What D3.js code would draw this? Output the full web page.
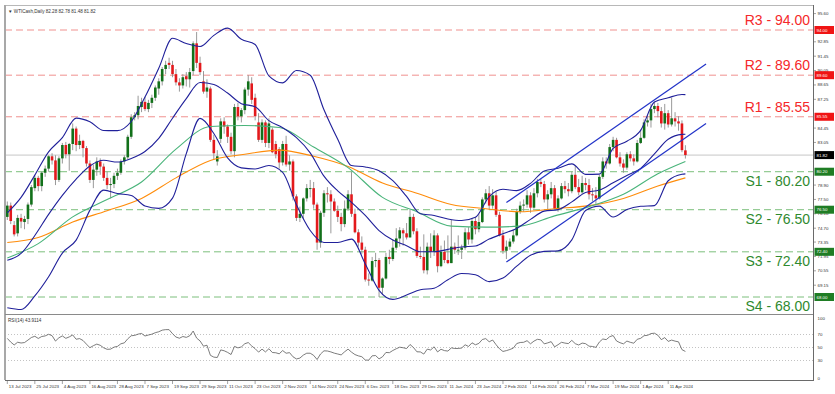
<!DOCTYPE html>
<html>
<head>
<meta charset="utf-8">
<script src="https://cdn.jsdelivr.net/npm/d3@7/dist/d3.min.js"></script>
<style>
  html, body { margin: 0; padding: 0; background: #fff; }
  svg { display: block; font-family: "Liberation Sans", Arial, sans-serif; }
</style>
</head>
<body>
<svg id="chart" width="835" height="394"></svg>
<script>
// daily bars, 13 Jul 2023 .. 18 Apr 2024
const opens = [
  75.8,76.9,75.0,74.2,75.7,75.3,75.6,77.0,78.6,79.6, 78.8,80.1,80.5,81.7,81.3,79.4,81.5,82.8,81.9,82.9,
  84.4,82.8,83.2,82.5,81.0,79.4,80.4,81.2,80.7,79.6, 78.9,79.0,79.8,80.1,81.2,81.6,83.6,85.5,85.7,86.5,
  87.0,86.3,86.9,87.4,88.3,89.0,90.2,90.8,90.6,89.7, 88.9,88.6,89.5,89.2,90.0,92.7,90.8,89.0,88.0,88.3,
  83.3,81.2,83.4,85.1,84.6,83.6,82.2,86.5,85.6,86.2, 88.2,88.8,87.4,85.0,83.3,85.0,83.0,84.3,82.9,82.4,
  81.1,82.9,80.9,81.2,77.8,75.7,76.1,77.6,78.6,78.6, 77.0,73.3,76.2,78.1,78.0,77.3,76.4,75.8,75.1,76.6,
  78.0,76.1,74.3,73.3,72.6,69.7,69.6,71.5,71.6,68.9, 69.8,71.9,71.7,72.8,73.7,74.5,74.2,73.8,75.8,74.4,
  72.0,71.9,70.6,72.9,72.4,74.0,71.0,72.4,71.6,71.3, 72.9,72.6,72.6,72.8,74.3,73.6,75.4,74.6,75.3,77.5,
  78.1,76.9,77.9,76.0,74.0,72.5,72.9,73.4,74.0,76.3, 76.9,77.0,77.9,76.7,78.1,79.2,79.0,77.5,78.0,78.6,
  76.6,77.6,78.8,78.5,78.3,79.9,78.7,78.2,79.1,78.9, 78.0,77.9,77.6,79.7,81.2,81.0,82.6,83.3,81.6,81.0,
  80.6,81.9,81.5,81.2,83.0,83.5,85.0,85.2,86.3,86.6, 86.1,84.9,85.9,84.8,85.4,85.1,84.9,82.28
];
const highs = [
  77.3,77.2,75.4,76.0,76.1,75.9,77.2,78.9,79.8,79.8, 80.2,80.8,81.8,82.0,81.8,81.7,83.0,83.1,83.0,84.9,
  84.6,83.8,83.3,82.7,81.3,80.9,81.6,81.5,81.0,80.2, 79.6,80.1,80.5,81.4,81.8,83.8,85.8,86.0,87.6,87.4,
  87.5,87.2,87.7,88.6,89.3,90.4,91.0,91.3,91.0,90.2, 89.3,89.7,89.9,90.3,92.9,93.8,91.4,90.0,89.2,88.5,
  83.8,82.3,85.4,85.5,84.8,84.0,86.8,86.9,86.4,88.4, 89.6,89.4,87.8,85.9,85.3,85.2,85.4,84.5,83.2,82.6,
  83.2,83.7,81.8,81.4,78.0,76.8,77.7,79.0,79.4,79.2, 77.2,76.4,78.4,78.7,78.4,77.6,76.9,76.2,77.4,78.4,
  80.2,76.6,74.6,73.9,72.9,70.3,71.9,72.3,71.8,69.9, 72.3,72.6,73.6,74.7,74.8,74.7,75.2,76.5,76.1,74.7,
  72.9,74.1,73.3,74.2,74.5,74.2,73.0,73.5,74.0,75.5, 73.3,74.0,73.1,74.7,74.8,75.7,75.8,76.1,77.7,78.5,
  78.8,78.5,78.3,76.3,74.5,73.5,73.7,74.5,76.6,77.3, 77.5,78.4,78.2,78.6,79.5,79.5,79.3,78.4,79.2,78.9,
  77.9,79.1,79.3,79.1,80.2,80.8,79.5,79.8,79.6,79.5, 78.6,78.7,79.9,81.6,81.6,82.9,83.6,83.5,82.1,81.4,
  82.1,82.2,81.9,83.3,84.3,85.3,85.7,86.8,87.0,86.9, 86.5,86.8,86.2,87.4,86.0,85.6,85.2,82.78
];
const lows = [
  75.5,75.1,73.9,73.9,74.7,74.6,75.1,76.8,78.3,78.3, 78.3,79.7,80.2,80.9,78.9,79.2,81.0,81.5,80.3,82.3,
  82.2,82.4,81.6,80.7,79.1,78.6,79.8,79.9,79.3,78.5, 77.6,78.6,79.4,79.9,80.9,81.4,83.4,85.2,85.3,86.0,
  86.1,86.0,86.4,87.1,87.7,88.6,89.7,90.2,89.4,88.6, 88.0,88.3,88.5,88.4,89.6,90.3,89.6,87.8,87.4,83.1,
  81.4,80.8,83.0,83.9,83.0,81.9,81.6,85.2,85.0,85.8, 87.6,86.8,85.2,83.1,83.0,82.6,82.5,82.0,81.5,80.5,
  80.8,80.7,80.3,77.4,75.4,75.3,75.6,77.3,77.7,76.6, 72.6,72.8,75.8,77.2,74.2,76.3,75.3,74.4,74.8,76.4,
  75.8,74.2,72.9,72.2,69.5,69.1,69.5,70.9,68.0,68.3, 69.7,71.2,71.5,72.6,72.9,73.0,73.6,73.8,74.1,71.8,
  71.7,70.3,70.2,71.8,72.0,70.4,70.9,71.3,71.2,71.3, 72.2,72.1,71.7,72.6,73.1,73.2,74.1,74.3,75.2,77.1,
  76.5,76.6,75.8,73.9,72.2,71.7,72.6,73.2,73.9,76.1, 76.3,76.7,76.2,76.6,77.7,78.7,77.2,76.5,77.6,76.5,
  76.3,77.5,78.1,77.8,78.1,78.5,77.9,78.0,78.4,77.5, 77.3,77.0,77.5,79.5,80.5,80.9,82.2,81.5,80.7,80.1,
  80.4,81.2,80.8,81.1,82.9,83.4,84.6,84.5,85.9,85.5, 84.5,84.3,84.5,84.6,84.6,84.2,82.1,81.48
];
const closes = [
  76.9,75.4,74.1,75.7,75.35,75.6,77.0,78.7,79.6,78.8, 80.1,80.5,81.7,81.3,79.4,81.5,82.8,81.9,82.9,84.4,
  82.8,83.2,82.5,81.0,79.4,80.4,81.2,80.7,79.6,78.9, 79.0,79.8,80.1,81.2,81.6,83.6,85.5,85.7,86.6,87.0,
  86.3,86.9,87.4,88.4,89.0,90.2,90.6,90.6,89.7,88.9, 88.6,89.4,89.2,89.9,92.7,90.8,89.9,88.0,88.4,83.3,
  82.0,81.7,85.1,84.6,83.6,82.2,86.5,85.6,86.2,88.2, 89.0,87.2,85.6,83.3,85.0,83.0,84.9,82.1,81.9,81.1,
  82.9,80.9,81.2,77.8,75.7,76.1,77.6,78.6,78.6,77.0, 73.3,76.2,78.1,78.0,77.3,76.4,75.8,75.1,76.6,78.0,
  76.1,74.3,73.3,72.6,69.7,69.6,71.5,71.6,68.9,69.8, 71.9,71.7,72.8,73.7,74.5,74.2,73.8,75.8,74.4,72.0,
  71.9,70.6,72.9,72.4,74.0,71.0,72.4,71.6,71.3,72.9, 72.6,72.6,72.8,74.3,73.6,75.4,74.6,75.3,77.5,78.1,
  76.9,77.9,76.0,74.0,72.5,72.9,73.4,74.0,76.3,76.9, 77.0,77.9,76.7,78.1,79.2,79.0,77.5,78.0,78.6,76.6,
  77.6,78.8,78.5,78.3,79.9,78.7,78.2,79.1,78.9,78.0, 77.9,77.6,79.7,81.2,81.0,82.6,83.3,81.6,81.0,80.6,
  81.9,81.5,81.2,83.0,83.5,85.0,85.2,86.3,86.6,86.1, 84.9,85.9,84.8,85.4,85.1,84.9,82.3,81.82
];

// bollinger (20) read every 4 bars
const bbIndex = [0,4,8,12,16,20,24,28,32,36,40,44,48,52,56,60,64,68,72,76,80,84,88,92,96,100,
  104,108,112,116,120,124,128,132,136,140,144,148,152,156,160,164,168,172,176,180,184,188,192,196,197];
const bbMid = [71.57,72.24,73.99,76.05,77.90,79.48,80.76,81.31,81.14,81.49,82.17,83.45,85.41,87.32,88.89,88.70,
  87.86,86.83,86.53,85.17,84.49,83.52,82.04,79.77,78.33,77.22,75.94,74.47,73.55,72.99,72.40,72.40,72.64,72.87,
  72.96,73.64,74.17,74.68,75.56,76.36,76.51,77.26,78.18,78.41,79.13,79.84,80.53,81.94,83.36,83.84,83.85];
const bbUpper = [76.19,77.70,79.87,82.13,83.52,85.42,85.06,84.21,84.20,85.09,87.47,90.27,93.19,92.68,92.39,93.48,
  94.18,93.09,92.59,89.53,88.85,90.06,89.60,86.23,83.35,80.80,80.66,80.29,79.33,77.79,76.10,75.94,75.60,75.45,
  75.76,77.78,78.49,78.36,79.06,80.28,80.53,80.96,79.94,79.97,82.47,83.16,84.23,86.98,87.40,87.72,87.71];
const bbLower = [66.95,66.78,68.11,69.97,72.28,73.54,76.46,78.41,78.08,77.89,76.87,76.63,77.63,81.96,85.39,83.92,
  81.54,80.57,80.47,80.81,80.13,76.98,74.48,73.31,73.31,73.64,71.22,68.65,67.77,68.19,68.70,68.86,69.68,70.29,
  70.16,69.50,69.85,71.00,72.06,72.44,72.49,73.56,76.42,76.85,75.79,76.52,76.83,76.90,79.32,79.96,79.99];

// moving averages read every 10 bars
const maIndex = [0,9,19,29,39,49,59,69,79,89,99,109,119,129,139,149,159,169,179,189,197];
const ma50 = [71.8,73.2,75.8,77.5,79.2,82.4,84.6,84.7,84.5,82.6,80.6,77.7,76.3,74.9,74.8,74.9,75.9,76.8,78.0,80.0,81.2];
const ma100 = [73.3,73.8,75.3,76.4,77.6,79.6,81.3,81.9,82.3,81.7,80.7,79.1,78.1,77.0,76.6,76.3,76.6,76.9,77.6,78.8,79.6];

// trend channel end points
const channelIndex = [145, 203];
const channelTop = [77.2, 90.7];
const channelBottom = [71.4, 84.9];

const rsi = [
  64.0,58.3,53.9,58.1,56.9,57.6,61.4,65.4,67.3,63.9, 66.9,67.8,70.3,68.3,59.9,65.0,67.8,64.1,66.3,69.3,
  62.7,63.7,60.8,55.1,49.7,52.8,55.2,53.4,49.5,47.2, 47.5,50.6,51.7,55.7,57.1,63.4,68.1,68.6,70.6,71.6,
  67.7,69.2,70.5,72.8,74.2,76.7,77.5,77.5,71.2,66.1, 64.3,66.9,65.6,68.0,75.3,64.5,60.1,52.0,53.5,38.0,
  35.2,34.6,46.3,45.0,42.5,39.2,51.7,49.4,50.9,55.8, 57.6,52.4,48.2,42.9,47.5,43.2,48.1,42.3,41.9,40.3,
  45.3,41.2,42.1,35.7,32.4,33.7,38.3,41.2,41.2,37.9, 31.5,40.0,44.9,44.6,43.2,41.3,40.0,38.6,43.4,47.5,
  42.9,39.1,37.1,35.8,30.7,30.5,37.2,37.6,32.5,35.7, 42.4,42.0,45.4,48.1,50.5,49.6,48.4,54.6,50.0,43.4,
  43.2,39.9,47.5,46.2,51.1,43.2,47.3,45.2,44.5,49.4, 48.5,48.5,49.2,54.2,51.6,57.2,54.2,56.3,62.3,63.7,
  58.8,61.5,54.3,48.0,43.9,45.2,46.9,49.0,56.1,57.7, 58.0,60.5,55.7,59.8,62.6,61.8,55.6,57.1,59.0,51.0,
  54.3,58.0,56.8,56.0,61.0,55.9,53.8,56.8,55.9,52.0, 51.6,50.2,58.4,63.1,62.1,66.6,68.4,60.0,57.4,55.6,
  59.9,58.0,56.6,62.6,64.1,68.2,68.7,71.4,72.0,68.9, 62.1,65.2,59.4,61.4,59.8,58.7,46.7,43.9114
];

const levelNames = ['R3', 'R2', 'R1', 'S1', 'S2', 'S3', 'S4'];
const levelValues = [94.00, 89.60, 85.55, 80.20, 76.50, 72.40, 68.00];

const priceTicks = ['95.60','94.20','92.85','91.45','90.05','88.65','87.25','85.85','84.45','83.05','81.70',
  '80.30','78.90','77.50','76.10','74.70','73.35','71.95','70.55','69.15','67.75'];
const rsiTicks = [100, 70, 50, 30, 0];
const dateLabels = ['13 Jul 2023','25 Jul 2023','4 Aug 2023','16 Aug 2023','28 Aug 2023','7 Sep 2023',
  '19 Sep 2023','29 Sep 2023','11 Oct 2023','23 Oct 2023','2 Nov 2023','14 Nov 2023','24 Nov 2023',
  '6 Dec 2023','18 Dec 2023','29 Dec 2023','11 Jan 2024','23 Jan 2024','2 Feb 2024','14 Feb 2024',
  '26 Feb 2024','7 Mar 2024','19 Mar 2024','1 Apr 2024','11 Apr 2024'];

class PriceChartView {

  left = 5;
  right = 813;
  mainBottom = 314;
  rsiTop = 315;
  rsiBottom = 380;

  constructor() {
    this.svg = d3.select('#chart');
    this.setup();
  }

  setup() {
    this.x = d3.scaleLinear().domain([0, closes.length - 1]).range([7.3, 685.4]);
    this.y = d3.scaleLinear().domain([68, 94]).range([297, 30]);
    this.yRsi = d3.scaleLinear().domain([0, 100]).range([this.rsiBottom, this.rsiTop]);

    let defs = this.svg.append('defs');
    defs.append('clipPath').attr('id', 'mainClip')
      .append('rect').attr('x', this.left + 1).attr('y', 6)
      .attr('width', this.right - this.left - 1).attr('height', this.mainBottom - 6);
    defs.append('clipPath').attr('id', 'rsiClip')
      .append('rect').attr('x', this.left + 1).attr('y', this.rsiTop)
      .attr('width', this.right - this.left - 1).attr('height', this.rsiBottom - this.rsiTop);

    this.drawLevels();
    this.drawCandles();
    this.drawIndicators();
    this.drawLevelLabels();
    this.drawRsi();
    this.drawFrame();
    this.drawAxes();
  }

  drawLevels() {
    let g = this.svg.append('g').attr('clip-path', 'url(#mainClip)');
    let last = closes[closes.length - 1];

    g.append('line')
      .attr('x1', this.left).attr('x2', this.right)
      .attr('y1', this.y(last)).attr('y2', this.y(last))
      .attr('stroke', '#c6c6c6').attr('stroke-width', 1);

    g.selectAll('line.level')
      .data(levelValues)
      .join('line')
      .attr('class', 'level')
      .attr('x1', this.left).attr('x2', this.right)
      .attr('y1', d => this.y(d)).attr('y2', d => this.y(d))
      .attr('stroke', (d, i) => levelNames[i][0] == 'R' ? '#f0918f' : '#7cbf7c')
      .attr('stroke-width', 1)
      .attr('stroke-dasharray', '7,4');
  }

  drawCandles() {
    let g = this.svg.append('g').attr('clip-path', 'url(#mainClip)');
    let bars = closes.map((c, i) => ({ i: i, o: opens[i], h: highs[i], l: lows[i], c: c }));

    g.selectAll('line.wick')
      .data(bars)
      .join('line')
      .attr('class', 'wick')
      .attr('x1', d => this.x(d.i)).attr('x2', d => this.x(d.i))
      .attr('y1', d => this.y(d.h)).attr('y2', d => this.y(d.l))
      .attr('stroke', '#8d8d8d')
      .attr('stroke-width', 0.9);

    g.selectAll('rect.body')
      .data(bars)
      .join('rect')
      .attr('class', 'body')
      .attr('x', d => this.x(d.i) - 1.3)
      .attr('width', 2.6)
      .attr('y', d => this.y(Math.max(d.o, d.c)))
      .attr('height', d => Math.max(0.9, Math.abs(this.y(d.o) - this.y(d.c))))
      .attr('fill', d => d.c >= d.o ? '#12701a' : '#e3191c');
  }

  drawIndicators() {
    let g = this.svg.append('g').attr('clip-path', 'url(#mainClip)');

    let bandLine = values => d3.line()
      .x(d => this.x(d))
      .y((d, k) => this.y(values[k]))
      .curve(d3.curveMonotoneX)(bbIndex);
    let maLine = values => d3.line()
      .x(d => this.x(d))
      .y((d, k) => this.y(values[k]))
      .curve(d3.curveMonotoneX)(maIndex);

    g.append('path').attr('d', maLine(ma100))
      .attr('fill', 'none').attr('stroke', '#ff8c0a').attr('stroke-width', 1.1);
    g.append('path').attr('d', maLine(ma50))
      .attr('fill', 'none').attr('stroke', '#49b47a').attr('stroke-width', 1.1);

    [bbUpper, bbMid, bbLower].forEach(values => {
      g.append('path').attr('d', bandLine(values))
        .attr('fill', 'none').attr('stroke', '#20209a').attr('stroke-width', 1.1);
    });

    [channelTop, channelBottom].forEach(values => {
      g.append('line')
        .attr('x1', this.x(channelIndex[0])).attr('y1', this.y(values[0]))
        .attr('x2', this.x(channelIndex[1])).attr('y2', this.y(values[1]))
        .attr('stroke', '#2233c8').attr('stroke-width', 1.2);
    });
  }

  drawLevelLabels() {
    this.svg.append('g')
      .selectAll('text')
      .data(levelValues)
      .join('text')
      .attr('x', 810)
      .attr('y', (d, i) => levelNames[i][0] == 'R' ? this.y(d) - 5 : this.y(d) + 14)
      .attr('text-anchor', 'end')
      .attr('font-size', 14)
      .attr('fill', (d, i) => levelNames[i][0] == 'R' ? '#f5282a' : '#2f8a2f')
      .text((d, i) => `${levelNames[i]} - ${d.toFixed(2)}`);
  }

  drawRsi() {
    let g = this.svg.append('g');
    g.selectAll('line.rsiLevel')
      .data([70, 50, 30])
      .join('line')
      .attr('x1', this.left).attr('x2', this.right)
      .attr('y1', d => this.yRsi(d)).attr('y2', d => this.yRsi(d))
      .attr('stroke', '#b4b4b4').attr('stroke-width', 0.8)
      .attr('stroke-dasharray', '1,2');

    g.append('path')
      .attr('clip-path', 'url(#rsiClip)')
      .attr('d', d3.line().x((d, i) => this.x(i)).y(d => this.yRsi(d))(rsi))
      .attr('fill', 'none').attr('stroke', '#5a5a5a').attr('stroke-width', 0.8);

    g.append('text')
      .attr('x', 8).attr('y', 322)
      .attr('font-size', 4.6).attr('fill', '#333')
      .text('RSI(14) ' + rsi[rsi.length - 1]);
  }

  drawFrame() {
    let g = this.svg.append('g');
    g.append('line').attr('x1', this.left).attr('x2', this.right).attr('y1', 5.5).attr('y2', 5.5)
      .attr('stroke', '#b8b8b8').attr('stroke-width', 1);
    g.append('line').attr('x1', this.left).attr('x2', this.left).attr('y1', 5).attr('y2', this.rsiBottom)
      .attr('stroke', '#a8a8a8').attr('stroke-width', 2);
    g.append('line').attr('x1', this.left).attr('x2', this.right)
      .attr('y1', this.mainBottom + 0.5).attr('y2', this.mainBottom + 0.5)
      .attr('stroke', '#8a8a8a').attr('stroke-width', 1);
    g.append('line').attr('x1', this.left).attr('x2', this.right)
      .attr('y1', this.rsiBottom + 0.5).attr('y2', this.rsiBottom + 0.5)
      .attr('stroke', '#6a6a6a').attr('stroke-width', 1);
    g.append('line').attr('x1', this.right + 0.5).attr('x2', this.right + 0.5)
      .attr('y1', 5).attr('y2', this.rsiBottom + 1)
      .attr('stroke', '#6a6a6a').attr('stroke-width', 1);

    let last = closes.length - 1;
    g.append('text')
      .attr('x', 8).attr('y', 13)
      .attr('font-size', 4.6).attr('fill', '#333')
      .text(`\u25BC WTICash,Daily  ${opens[last].toFixed(2)} ${highs[last].toFixed(2)} ${lows[last].toFixed(2)} ${closes[last].toFixed(2)}`);
  }

  drawAxes() {
    let g = this.svg.append('g').attr('font-size', 4.4).attr('fill', '#333');
    let lastPrice = closes[closes.length - 1];
    let boxes = levelValues.concat([lastPrice]);

    // price scale labels, hidden where a price box covers them
    let shown = priceTicks.filter(t => boxes.every(b => Math.abs(this.y(+t) - this.y(b)) > 4));
    g.selectAll('line.ptick')
      .data(shown)
      .join('line')
      .attr('x1', this.right).attr('x2', this.right + 3)
      .attr('y1', d => this.y(+d)).attr('y2', d => this.y(+d))
      .attr('stroke', '#666').attr('stroke-width', 0.6);
    g.selectAll('text.ptick')
      .data(shown)
      .join('text')
      .attr('x', this.right + 4.5)
      .attr('y', d => this.y(+d))
      .attr('dy', '0.35em')
      .text(d => d);

    let tags = levelValues.map((v, i) => ({ v: v, fill: levelNames[i][0] == 'R' ? '#f01414' : '#1f7d24' }));
    tags.push({ v: lastPrice, fill: '#000' });
    g.selectAll('rect.tag')
      .data(tags)
      .join('rect')
      .attr('x', this.right + 1.5).attr('width', 19.5)
      .attr('y', d => this.y(d.v) - 4).attr('height', 8)
      .attr('fill', d => d.fill);
    g.selectAll('text.tag')
      .data(tags)
      .join('text')
      .attr('x', this.right + 3.5)
      .attr('y', d => this.y(d.v))
      .attr('dy', '0.35em')
      .attr('fill', '#fff')
      .text(d => d.v.toFixed(2));

    g.selectAll('text.rtick')
      .data(rsiTicks)
      .join('text')
      .attr('x', this.right + 4.5)
      .attr('y', d => Math.min(this.rsiBottom - 2, Math.max(this.rsiTop + 3, this.yRsi(d))))
      .attr('dy', '0.35em')
      .text(d => d);

    // date labels every 8 bars
    g.selectAll('line.dtick')
      .data(dateLabels)
      .join('line')
      .attr('x1', (d, k) => this.x(k * 8)).attr('x2', (d, k) => this.x(k * 8))
      .attr('y1', this.rsiBottom).attr('y2', this.rsiBottom + 4)
      .attr('stroke', '#666').attr('stroke-width', 0.6);
    g.selectAll('text.dtick')
      .data(dateLabels)
      .join('text')
      .attr('x', (d, k) => this.x(k * 8) + 1.5)
      .attr('y', 388)
      .text(d => d);
  }
}

new PriceChartView();
</script>
</body>
</html>
